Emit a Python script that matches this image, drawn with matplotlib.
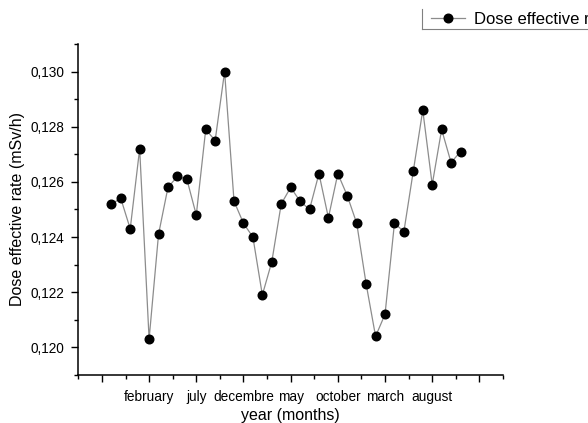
import matplotlib
matplotlib.use("Agg")
import matplotlib.pyplot as plt
from matplotlib.ticker import FuncFormatter, MultipleLocator, FixedLocator
from matplotlib.lines import Line2D

plt.rcParams['font.family'] = ['Liberation Sans', 'DejaVu Sans']

# monthly index (1 = october of first year)
months = list(range(1, 39))
dose = [0.1252, 0.1254, 0.1243, 0.1272, 0.1203, 0.1241, 0.1258, 0.1262, 0.1261, 0.1248,
        0.1279, 0.1275, 0.1300, 0.1253, 0.1245, 0.1240, 0.1219, 0.1231, 0.1252, 0.1258,
        0.1253, 0.1250, 0.1263, 0.1247, 0.1263, 0.1255, 0.1245, 0.1223, 0.1204, 0.1212,
        0.1245, 0.1242, 0.1264, 0.1286, 0.1259, 0.1279, 0.1267, 0.1271]
tick_pos = [0, 5, 10, 15, 20, 25, 30, 35, 40]
tick_lab = ['', 'february', 'july', 'decembre', 'may', 'october', 'march', 'august', '']

fig = plt.figure(figsize=(5.88, 4.23), dpi=100)
ax = fig.add_axes([0.1332, 0.1135, 0.7222, 0.7825])

ax.plot(months, dose, color='#8c8c8c', lw=0.9, marker='o', ms=6.2,
        mfc='black', mec='black', zorder=3)

ax.set_xlim(-2.5, 42.5)
ax.set_ylim(0.119, 0.131)

ax.xaxis.set_major_locator(FixedLocator(tick_pos))
ax.set_xticklabels(tick_lab)
ax.xaxis.set_minor_locator(MultipleLocator(2.5))
ax.yaxis.set_major_locator(MultipleLocator(0.002))
ax.yaxis.set_minor_locator(MultipleLocator(0.001))
ax.yaxis.set_major_formatter(FuncFormatter(lambda v, p: ('%.3f' % v).replace('.', ',')))

ax.tick_params(which='major', direction='out', length=5, width=1, labelsize=9.8)
ax.tick_params(axis='x', which='major', pad=6)
ax.tick_params(axis='y', which='major', pad=5)
ax.tick_params(which='minor', direction='out', length=3, width=1)

for s in ['top', 'right']:
    ax.spines[s].set_visible(False)
for s in ['left', 'bottom']:
    ax.spines[s].set_linewidth(1.1)

ax.set_xlabel('year (months)', fontsize=11.5, labelpad=3)
ax.set_ylabel('Dose effective rate (mSv/h)', fontsize=11.5, labelpad=4)

# legend, partly outside the figure
h = Line2D([], [], color='#8c8c8c', lw=0.9, marker='o', ms=6.2, mfc='black', mec='black')
leg = fig.legend([h], ['Dose effective rate'], loc='center left',
                 bbox_to_anchor=(0.708, 0.955), frameon=False, fontsize=12,
                 handlelength=2.0, handletextpad=0.55)
fig.add_artist(Line2D([0.718, 0.718], [0.931, 0.979], color='#808080', lw=0.8))
fig.add_artist(Line2D([0.718, 1.0], [0.931, 0.931], color='#808080', lw=0.8))

fig.savefig('out.png', dpi=100)
